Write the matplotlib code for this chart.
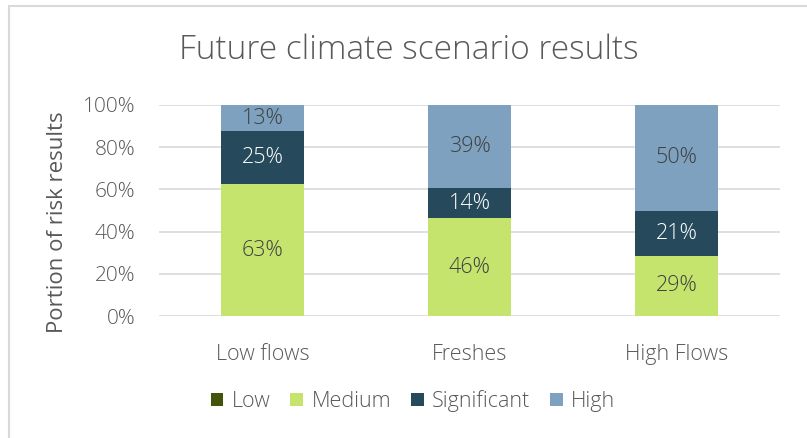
import matplotlib.pyplot as plt
from matplotlib.patches import Rectangle

# scenario data (percent of risk results)
categories = ['Low flows', 'Freshes', 'High Flows']
series = ['Low', 'Medium', 'Significant', 'High']
low = [0.0, 0.0, 0.0]
medium = [62.5, 46.4, 28.6]
significant = [25.0, 14.3, 21.4]
high = [12.5, 39.3, 50.0]
y_ticks = [0, 20, 40, 60, 80, 100]

colors = ['#44540B', '#C4E46E', '#264A5B', '#7DA1BE']
label_colors = ['#404040', '#404040', '#FFFFFF', '#404040']

plt.rcParams['font.family'] = ['Open Sans', 'DejaVu Sans']
plt.rcParams['font.weight'] = 'light'
grey = '#595959'

fig = plt.figure(figsize=(8.07, 4.38), dpi=100)
W, H = 807, 438

# chart frame (runs off the right and bottom edges)
fig.patches.append(Rectangle((9 / W, -0.1), 1.2, 1.1 - 6 / H, transform=fig.transFigure,
                             fill=False, edgecolor='#D9D9D9', linewidth=1.5))

ax = fig.add_axes([159 / W, 1 - 316 / H, (780 - 159) / W, (316 - 105) / H])

x = list(range(len(categories)))
bottom = [0.0] * len(categories)
for name, vals, col, lc in zip(series, [low, medium, significant, high], colors, label_colors):
    ax.bar(x, vals, width=0.4, bottom=bottom, color=col, label=name, zorder=3)
    for xi, b, v in zip(x, bottom, vals):
        if v > 0:
            ax.text(xi, b + v / 2, '{}%'.format(int(v + 0.5)), ha='center', va='center',
                    fontsize=15.5, color=lc, zorder=4)
    bottom = [b + v for b, v in zip(bottom, vals)]

ax.set_xlim(-0.5, 2.5)
ax.set_ylim(0, 100)
ax.set_yticks(y_ticks)
ax.set_yticklabels(['{}%'.format(t) for t in y_ticks])
ax.set_xticks(x)
ax.set_xticklabels(categories)
ax.grid(axis='y', color='#D9D9D9', linewidth=1.2, zorder=0)
for s in ax.spines.values():
    s.set_visible(False)
ax.tick_params(length=0, labelsize=15, colors=grey)
ax.tick_params(axis='y', pad=17)
ax.tick_params(axis='x', labelsize=15.5, pad=20)
ax.set_ylabel('Portion of risk results', fontsize=16, color=grey)
ax.yaxis.set_label_coords(-0.147, 0.445)

fig.text(409 / W, 1 - 50 / H, 'Future climate scenario results', ha='center', va='center',
         fontsize=24, color=grey)

fig.legend(loc='center', bbox_to_anchor=(413 / W, 1 - 401 / H), ncol=4, frameon=False,
           fontsize=15.5, labelcolor=grey, handlelength=0.6, handleheight=0.6,
           handletextpad=0.4, columnspacing=0.9)

fig.savefig('out.png', dpi=100)
